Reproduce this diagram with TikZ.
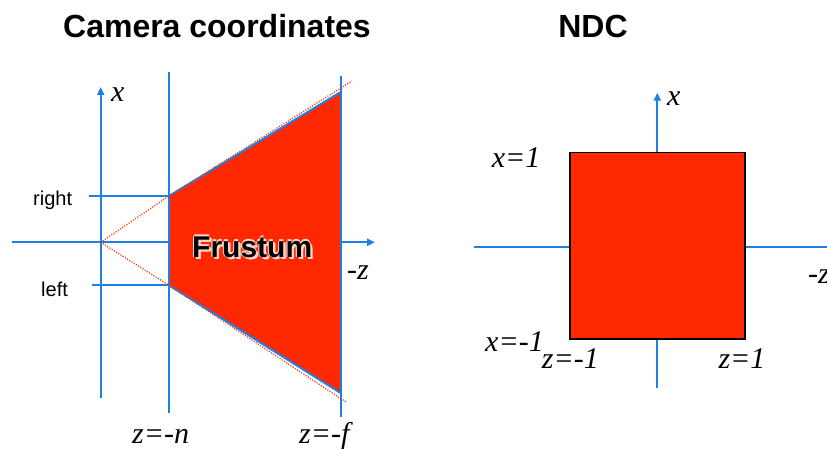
\documentclass[tikz,border=0pt]{standalone}
\usepackage{fontspec}
\setmainfont{Liberation Serif}
\setsansfont{Liberation Sans}
\usetikzlibrary{arrows.meta}
\definecolor{axblue}{RGB}{28,128,228}
\definecolor{frred}{RGB}{255,40,0}
\tikzset{
  ax/.style={draw=axblue, line width=2pt},
  axarrow/.style={ax, -{Triangle[length=8pt,width=7pt]}},
  dots/.style={draw=frred, line width=1.3pt, dash pattern=on 1pt off 1.6pt},
  title/.style={font=\sffamily\bfseries\fontsize{32}{32}\selectfont, anchor=base},
  small/.style={font=\sffamily\fontsize{20}{20}\selectfont, anchor=base west, inner sep=0pt},
  it/.style={font=\itshape\fontsize{30}{30}\selectfont, anchor=base west, inner sep=0pt},
  frtext/.style={font=\sffamily\bfseries\fontsize{30}{30}\selectfont, anchor=base west, inner sep=0pt},
}
\begin{document}
\begin{tikzpicture}[x=1pt,y=-1pt]
\useasboundingbox (0,0) rectangle (827,449);
% titles
\node[title] (t1) at (217,38) {Camera coordinates};
\node[title] (t2) at (593,38) {NDC};
% ---- left diagram ----
\coordinate (o) at (100.7,242.3);
\coordinate (xb) at (100.7,398);
\coordinate (xt) at (100.7,87);
\coordinate (zl) at (12,242.3);
\coordinate (zr) at (375,242.3);
\coordinate (nt) at (169,72);
\coordinate (nb) at (169,413);
\coordinate (ft) at (340.7,76);
\coordinate (fb) at (340.7,417);
\coordinate (rl) at (89,196);
\coordinate (ll) at (92,285.3);
\coordinate (nr) at (169,196);
\coordinate (nl) at (169,285.3);
\coordinate (fr) at (340.7,92);
\coordinate (fl) at (340.7,393);
\coordinate (er) at (352,81);
\coordinate (el) at (346,402);
\fill[frred] (nr) -- (fr) -- (fl) -- (nl) -- cycle;
\draw[ax] (zl) -- (nl |- o);
\draw[axarrow] (fl |- o) -- (zr);
\draw[axarrow] (xb) -- (xt);
\draw[ax] (nt) -- (nb);
\draw[ax] (ft) -- (fb);
\draw[ax] (rl) -- (nr);
\draw[ax] (ll) -- (nl);
\draw[ax] (nr) -- (fr);
\draw[ax] (nl) -- (fl);
\draw[dots] (o) -- (nr);
\draw[dots] (o) -- (nl);
\draw[dots] (nr) -- (er);
\draw[dots] (nl) -- (el);
\node[it] (lx) at (111,102) {x};
\node[small] (lr) at (33,206) {right};
\node[small] (lle) at (41,296) {left};
\node[it] (lz) at (347,279) {-z};
\node[it] (ln) at (132,443) {z=-n};
\node[it] (lf) at (299,443) {z=-f};
% Frustum text with soft white glow
\foreach \dx/\dy in {-1.2/0,0/-1.2,1.6/1.6,2.4/2.0,2.0/2.4}{
  \node[frtext, text=white!80!frred] at (192+\dx,257+\dy) {Frustum};
}
\node[frtext] (fru) at (192,257) {Frustum};
% ---- right diagram ----
\coordinate (vo) at (657.3,246.7);
\coordinate (vb) at (657.3,388);
\coordinate (vt) at (657.3,92.7);
\coordinate (hl) at (474,246.7);
\coordinate (hr) at (830,246.7);
\draw[ax, line width=1.8pt] (hl) -- (hr);
\draw[axarrow, line width=1.8pt] (vb) -- (vt);
\node[draw=black, line width=1.5pt, fill=frred, minimum width=175.3pt, minimum height=186.6pt, inner sep=0pt, anchor=north west] (sq) at (569,151.7) {};
\node[it] (rx) at (667,105.7) {x};
\node[it] (x1) at (491.7,167.7) {x=1};
\node[it] (xm1) at (485,351) {x=-1};
\node[it] (zm1) at (541.7,368.3) {z=-1};
\node[it] (z1) at (718.3,368) {z=1};
\node[it] (rz) at (808,283.3) {-z};
\end{tikzpicture}
\end{document}
